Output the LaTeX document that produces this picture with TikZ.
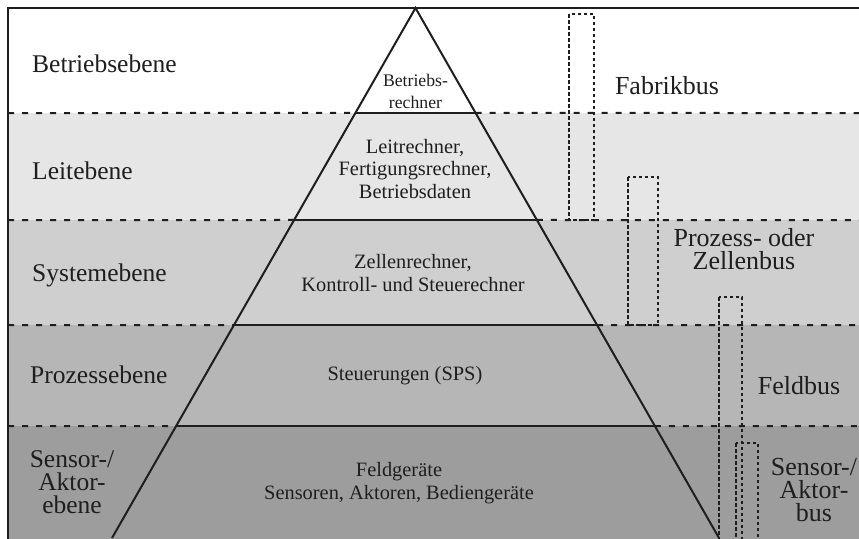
\documentclass[tikz,border=0pt]{standalone}
\usepackage{fontspec}
\setmainfont{Liberation Serif}
\usetikzlibrary{calc}
\definecolor{ink}{HTML}{1E1E1E}
\definecolor{bandB}{HTML}{E6E6E6}
\definecolor{bandC}{HTML}{CFCFCF}
\definecolor{bandD}{HTML}{B6B6B6}
\definecolor{bandE}{HTML}{9D9D9D}
\begin{document}
\begin{tikzpicture}[x=1pt,y=-1pt,
  level/.style={draw=ink, line width=2pt, dash pattern=on 6pt off 8pt},
  tier/.style={draw=ink, line width=2pt},
  busbox/.style={draw=ink, line width=1.8pt, dash pattern=on 3.5pt off 2.5pt},
  lvltext/.style={font=\fontsize{25.5}{23}\selectfont, text=ink, align=center, inner sep=0pt},
  pyrtext/.style={font=\fontsize{20.4}{22.5}\selectfont, text=ink, align=center, inner sep=0pt},
  toptext/.style={font=\fontsize{17.7}{22}\selectfont, text=ink, align=center, inner sep=0pt},
  bustext/.style={font=\fontsize{26}{23}\selectfont, text=ink, align=center, inner sep=0pt}
]
\useasboundingbox (0,0) rectangle (859,538);

% shaded level bands
\fill[bandB] (8,113) rectangle (859,220);
\fill[bandC] (8,220) rectangle (859,325);
\fill[bandD] (8,325) rectangle (859,426);
\fill[bandE] (8,426) rectangle (859,545);

% pyramid corners and the points where the level boundaries meet its sides
\coordinate (apex) at (415.5,8);
\coordinate (bl) at (112,538);
\coordinate (br) at (719,538);
\foreach \i/\t in {1/0.19811,2/0.4,3/0.59811,4/0.78868} {
  \coordinate (l\i) at ($(apex)!\t!(bl)$);
  \coordinate (r\i) at ($(apex)!\t!(br)$);
}

% level boundaries: dashed outside, solid inside the pyramid
\foreach \i/\yy in {1/113,2/220,3/325,4/426} {
  \draw[level] (8,\yy) -- (l\i);
  \draw[level] (r\i) -- (859,\yy);
  \draw[tier] (l\i) -- (r\i);
}

% pyramid sides
\draw[tier, line join=miter] (bl) -- (apex) -- (br);

% frame
\draw[ink, line width=2pt] (8,545) -- (8,8) -- (859,8);

% bus extents
\draw[busbox] (569,14) rectangle (594,220);
\draw[busbox] (628,177) rectangle (658,325);
\draw[busbox] (719,297) rectangle (742,548);
\draw[busbox] (736,443) rectangle (758,548);

% level names
\node[lvltext, anchor=base west] (betriebsebene) at (32,72) {Betriebsebene};
\node[lvltext, anchor=base west] (leitebene) at (32,179) {Leitebene};
\node[lvltext, anchor=base west] (systemebene) at (32,281) {Systemebene};
\node[lvltext, anchor=base west] (prozessebene) at (30,383) {Prozessebene};
\node[lvltext] (sensorebene) at (72,482) {Sensor-/\\Aktor-\\ebene};

% contents of the pyramid
\node[toptext] (betriebsrechner) at (415.5,91) {Betriebs-\\rechner};
\node[pyrtext] (leitrechner) at (415,169) {Leitrechner,\\Fertigungsrechner,\\Betriebsdaten};
\node[pyrtext] (zellenrechner) at (413,273) {Zellenrechner,\\Kontroll- und Steuerechner};
\node[pyrtext] (sps) at (405,376) {Steuerungen (SPS)};
\node[pyrtext] (feldgeraete) at (399,483) {Feldgeräte\\Sensoren, Aktoren, Bediengeräte};

% bus names
\node[bustext] (fabrikbus) at (667,86) {Fabrikbus};
\node[bustext] (zellenbus) at (744,249) {Prozess- oder\\Zellenbus};
\node[bustext] (feldbus) at (799,386) {Feldbus};
\node[bustext] (aktorbus) at (814,490) {Sensor-/\\Aktor-\\bus};
\end{tikzpicture}
\end{document}
